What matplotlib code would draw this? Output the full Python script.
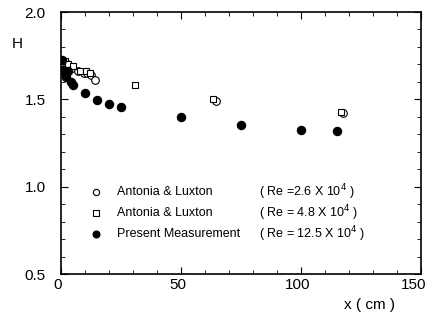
import numpy as np
import matplotlib
matplotlib.use("Agg")
import matplotlib.pyplot as plt
import matplotlib.transforms as mtransforms
from matplotlib.ticker import MultipleLocator

plt.rcParams["font.family"] = ["Liberation Sans", "DejaVu Sans"]

# Antonia & Luxton, Re = 2.6 x 10^4
x_al26 = [2.5, 4.5, 7, 9.5, 11, 12.5, 14, 64.5, 117.5]
h_al26 = [1.70, 1.68, 1.66, 1.65, 1.65, 1.64, 1.61, 1.49, 1.42]

# Antonia & Luxton, Re = 4.8 x 10^4
x_al48 = [1.5, 3, 5, 8, 10.5, 12, 31, 63.5, 116.5]
h_al48 = [1.72, 1.70, 1.69, 1.66, 1.66, 1.65, 1.58, 1.50, 1.43]

# present measurement, Re = 12.5 x 10^4
x_pm = [0.4, 1, 1.5, 2, 3, 4.2, 5, 10, 15, 20, 25, 50, 75, 100, 115]
h_pm = [1.725, 1.67, 1.65, 1.63, 1.66, 1.60, 1.58, 1.535, 1.495, 1.475, 1.455,
        1.40, 1.355, 1.325, 1.32]

x_ticks = [0, 50, 100, 150]
legend_names = ["Antonia & Luxton", "Antonia & Luxton", "Present Measurement"]
legend_re = ["( Re =2.6 X 10$^4$ )", "( Re = 4.8 X 10$^4$ )", "( Re = 12.5 X 10$^4$ )"]

fig = plt.figure(figsize=(4.29, 3.2), dpi=100)
ax = fig.add_axes([61/429, 1-274/320, 360/429, 262/320])

ax.plot(x_al26, h_al26, 'o', mfc='white', mec='black', ms=5.5, mew=0.8)
ax.plot(x_al48, h_al48, 's', mfc='white', mec='black', ms=5, mew=0.8)
ax.plot(x_pm, h_pm, 'o', color='black', ms=5.8)

ax.set_xlim(0, 150)
ax.set_ylim(0.5, 2.0)
ax.set_xticks(x_ticks)
ax.xaxis.set_minor_locator(MultipleLocator(10))
ax.yaxis.set_major_locator(MultipleLocator(0.5))
ax.yaxis.set_minor_locator(MultipleLocator(0.1))
ax.yaxis.set_major_formatter(plt.FormatStrFormatter('%.1f'))
ax.tick_params(which='both', direction='in', top=True, right=True, labelsize=11)
ax.tick_params(which='major', length=5)
ax.tick_params(axis='x', which='major', pad=3)
ax.tick_params(axis='y', which='major', pad=11)
ax.tick_params(which='minor', length=3)
for s in ax.spines.values():
    s.set_linewidth(1.2)

# x tick labels sit a little left of their ticks in the original
labs = ax.get_xticklabels()
for k, lab in enumerate(labs):
    dx = -7 if k == len(labs) - 1 else -3
    shift = mtransforms.ScaledTranslation(dx/100, 0, fig.dpi_scale_trans)
    lab.set_transform(lab.get_transform() + shift)

# hand-drawn style legend
mk = ['o', 's', 'o']
fc = ['white', 'white', 'black']
for i in range(3):
    yy = 0.97 - i * 0.12
    ax.plot([14.6], [yy], mk[i], mfc=fc[i], mec='black', ms=4.5 if i < 2 else 5, mew=0.8)
    ax.text(23.5, yy, legend_names[i], fontsize=9, va='center')
    ax.text(82.5, yy, legend_re[i], fontsize=9, va='center')

fig.text(12/429, 1-44/320, "H", fontsize=11, va='center', ha='left')
fig.text(370/429, 1-305/320, "x ( cm )", fontsize=11, va='center', ha='center')

fig.savefig("out.png", dpi=100)
